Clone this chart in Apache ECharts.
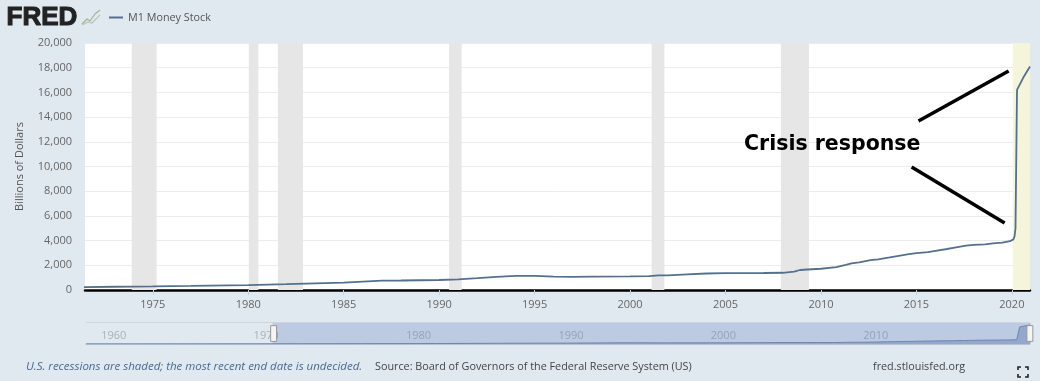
<!DOCTYPE html>
<html><head><meta charset="utf-8">
<style>html,body{margin:0;padding:0;background:#e1e9f0}#c{width:1040px;height:381px}</style>
<script src="https://cdn.jsdelivr.net/npm/echarts@6/dist/echarts.min.js"></script>
</head><body><div id="c"></div>
<script>
const seriesName = 'M1 Money Stock';
const years = [1959,1962,1965,1968,1970,1971.45,1973,1975,1977,1979,1980,1982,1984,1985,1986,1987,1988,1990,1991,1992,1993,1994,1995,1996,1997,1998,2000,2001,2001.5,2002,2003,2004,2005,2006,2007,2008,2008.6,2008.9,2009.3,2010,2010.8,2011.3,2011.6,2012,2012.6,2013,2013.6,2014,2014.6,2015,2015.6,2016,2016.6,2017,2017.6,2018,2018.6,2019,2019.5,2019.9,2020.08,2020.14,2020.19,2020.27,2020.35,2020.6,2020.95];
const m1Values = [140,146,165,195,215,228,262,287,330,380,400,470,560,600,680,755,770,810,860,960,1070,1140,1145,1090,1070,1085,1105,1120,1180,1190,1270,1335,1370,1370,1375,1395,1480,1620,1660,1720,1860,2030,2150,2240,2420,2480,2640,2750,2900,2990,3070,3170,3320,3430,3590,3660,3700,3770,3840,3950,4100,4350,5000,16200,16450,17200,18090];
const recessions = [[1973.9,1975.2],[1980.03,1980.53],[1981.55,1982.87],[1990.52,1991.18],[2001.13,2001.8],[2007.9,2009.37]];
const currentRecession = [2020.05,2020.95];
const xTickYears = [1975,1980,1985,1990,1995,2000,2005,2010,2015,2020];
const navTickYears = [1960,1970,1980,1990,2000,2010];
const annotationLines = [[[2015.11,13684],[2019.83,17733]],[[2014.75,9960],[2019.62,5425]]];
const annotationText = 'Crisis response';
const axisTitle = 'Billions of Dollars';
const noteText = 'U.S. recessions are shaded; the most recent end date is undecided.';
const sourceText = 'Source: Board of Governors of the Federal Reserve System (US)';
const siteText = 'fred.stlouisfed.org';
const logoText = 'FRED';

const font = '"Open Sans", sans-serif';
const chart = echarts.init(document.getElementById('c'), null, {renderer:'canvas'});
const handlePath = 'path://M0,0 L6,0 L6,16 L0,16 Z';
const points = years.map((y,i)=>[y,m1Values[i]]);
chart.setOption({
  animation:false,
  backgroundColor:'#e1e9f0',
  textStyle:{fontFamily:font},
  legend:{show:true,left:104,top:7,itemWidth:14,itemHeight:2,itemGap:5,icon:'rect',
    data:[seriesName],textStyle:{color:'#555',fontSize:10.8,fontFamily:font}},
  grid:[
    {left:85,right:10,top:43,height:247,backgroundColor:'#fff',show:true,borderWidth:0},
    {left:86,right:10,top:323,height:21,show:false}
  ],
  xAxis:[
    {type:'value',gridIndex:0,min:'dataMin',max:'dataMax',
      splitLine:{show:false},
      axisLine:{show:true,onZero:false,lineStyle:{color:'#000',width:2.5}},
      axisTick:{show:true,customValues:xTickYears,length:5,lineStyle:{color:'#c8d0d8'}},
      axisLabel:{customValues:xTickYears,color:'#666',fontSize:11,margin:9,fontFamily:font,formatter:v=>String(v),hideOverlap:false,showMinLabel:true,showMaxLabel:true}},
    {type:'value',gridIndex:1,min:1959,max:2020.95,
      splitLine:{show:false},axisLine:{show:true,onZero:false,lineStyle:{color:'#b4c2d2',width:1}},axisTick:{show:false},
      axisLabel:{customValues:navTickYears,inside:true,margin:3,align:'left',color:'#a8b0b8',fontSize:11,fontFamily:font,formatter:v=>String(v)}}
  ],
  yAxis:[
    {type:'value',gridIndex:0,min:0,max:20000,interval:2000,
      name:axisTitle,nameLocation:'middle',nameGap:60,nameTextStyle:{color:'#555',fontSize:11,fontFamily:font},
      axisLine:{show:false},axisTick:{show:false},
      splitLine:{show:true,lineStyle:{color:'#ececec',width:1}},
      axisLabel:{color:'#666',fontSize:11,margin:13,fontFamily:font,formatter:v=>v.toLocaleString('en-US')}},
    {type:'value',gridIndex:1,min:0,max:20000,show:false}
  ],
  dataZoom:[{type:'slider',xAxisIndex:0,filterMode:'none',startValue:1971.45,endValue:2020.95,
    left:81,right:10,top:323,height:21,showDetail:false,showDataShadow:false,brushSelect:false,moveHandleSize:0,
    borderColor:'transparent',borderRadius:0,backgroundColor:'rgba(0,0,0,0)',
    fillerColor:'rgba(102,133,194,0.3)',
    handleIcon:handlePath,handleSize:'75%',
    handleStyle:{color:'#f4f4f4',borderColor:'#999',borderWidth:1}
  }],
  series:[{
    name:seriesName,type:'line',xAxisIndex:0,yAxisIndex:0,symbol:'none',
    data:points,
    lineStyle:{color:'#55708c',width:1.8},itemStyle:{color:'#55708c'},
    markArea:{silent:true,
      data:recessions.map(r=>[{xAxis:r[0],itemStyle:{color:'#e6e6e6'}},{xAxis:r[1]}])
        .concat([[{xAxis:currentRecession[0],itemStyle:{color:'#f5f5dc'}},{xAxis:currentRecession[1]}]])},
    markLine:{silent:true,symbol:'none',label:{show:false},
      lineStyle:{color:'#000',width:3.5,type:'solid'},
      data:annotationLines.map(l=>[{coord:l[0]},{coord:l[1]}])}
  },{
    name:seriesName+' navigator',type:'line',xAxisIndex:1,yAxisIndex:1,symbol:'none',silent:true,
    data:points,
    lineStyle:{color:'#6d88ac',width:1},areaStyle:{color:'#6d88ac',opacity:0.5}
  }],
  graphic:[
    {type:'text',z:100,left:6,top:4,style:{text:logoText,fontFamily:'"Liberation Sans",Arial,sans-serif',fontWeight:'900',fontSize:26,fill:'#222',stroke:'#222',lineWidth:1.1}},
    {type:'polyline',z:100,shape:{points:[[82,24],[87,19],[90,21],[95,14],[100,10]]},style:{stroke:'#9fb49a',lineWidth:1.2,fill:null}},
    {type:'polyline',z:100,shape:{points:[[82,25],[88,22],[92,23],[97,18],[100,15]]},style:{stroke:'#b9c4b4',lineWidth:1.2,fill:null}},
    {type:'line',z:1,shape:{x1:86,y1:322.5,x2:1030,y2:322.5},style:{stroke:'#ccd6e0',lineWidth:1}},
    {type:'text',z:100,left:744,top:134,style:{text:annotationText,fontFamily:'"DejaVu Sans"',fontWeight:'bold',fontSize:20.5,fill:'#000'}},
    {type:'text',left:26,top:361,style:{text:noteText,fontFamily:font,fontStyle:'italic',fontSize:11.5,fill:'#4a6a90'}},
    {type:'text',left:375,top:361,style:{text:sourceText,fontFamily:font,fontSize:10.8,fill:'#444'}},
    {type:'text',left:873,top:361,style:{text:siteText,fontFamily:font,fontSize:10.8,fill:'#444'}},
    {type:'polyline',shape:{points:[[1018,370],[1018,367],[1021,367]]},style:{stroke:'#222',lineWidth:1.6,fill:null}},
    {type:'polyline',shape:{points:[[1025,367],[1028,367],[1028,370]]},style:{stroke:'#222',lineWidth:1.6,fill:null}},
    {type:'polyline',shape:{points:[[1018,374],[1018,377],[1021,377]]},style:{stroke:'#222',lineWidth:1.6,fill:null}},
    {type:'polyline',shape:{points:[[1025,377],[1028,377],[1028,374]]},style:{stroke:'#222',lineWidth:1.6,fill:null}}
  ]
});
</script></body></html>
